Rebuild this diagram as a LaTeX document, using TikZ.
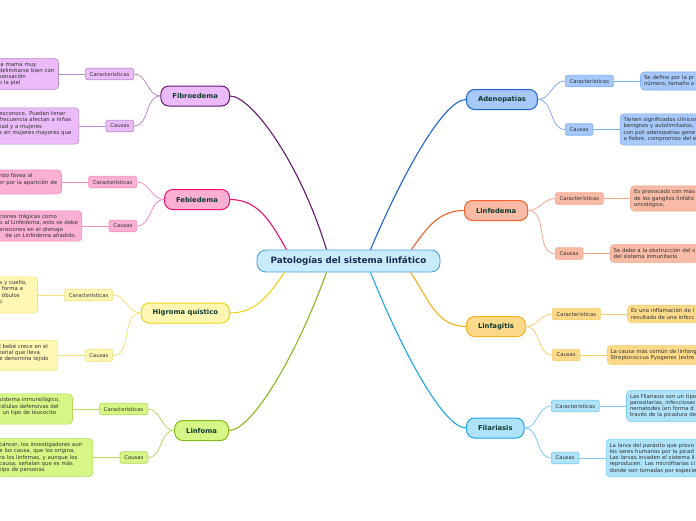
\documentclass[tikz,border=0pt]{standalone}
\usepackage{fontspec}
\setmainfont{DejaVu Sans}
\usepackage{xcolor}
\usetikzlibrary{positioning}

\definecolor{rootfill}{HTML}{C8ECFC}
\definecolor{rootline}{HTML}{4DA3DB}
\definecolor{roottext}{HTML}{1B2B4F}
\definecolor{topictext}{HTML}{0E3B2E}
\definecolor{notetext}{HTML}{333333}
\definecolor{adenofill}{HTML}{A6C8FA}
\definecolor{adenoline}{HTML}{1F63D6}
\definecolor{adenosub}{HTML}{84AEEE}
\definecolor{linfedfill}{HTML}{F9BBA5}
\definecolor{linfedline}{HTML}{F2622F}
\definecolor{linfedsub}{HTML}{F5A68C}
\definecolor{linfagfill}{HTML}{FDDA8A}
\definecolor{linfagline}{HTML}{F5B21F}
\definecolor{linfagsub}{HTML}{F8CF6E}
\definecolor{filarfill}{HTML}{AEE3FA}
\definecolor{filarline}{HTML}{1BA7EC}
\definecolor{filarsub}{HTML}{7CCDF4}
\definecolor{fibrofill}{HTML}{EBBBF9}
\definecolor{fibroline}{HTML}{64186F}
\definecolor{fibrosub}{HTML}{B98ACA}
\definecolor{febifill}{HTML}{FBAFD3}
\definecolor{febiline}{HTML}{EE1274}
\definecolor{febisub}{HTML}{F58DBD}
\definecolor{higrofill}{HTML}{FFF7B2}
\definecolor{higroline}{HTML}{F0D41C}
\definecolor{higrosub}{HTML}{F3E27A}
\definecolor{linfofill}{HTML}{D6F785}
\definecolor{linfoline}{HTML}{86BA1E}
\definecolor{linfosub}{HTML}{B4DA62}

\tikzset{
    root-box/.style = {draw=rootline, fill=rootfill, line width=0.9pt, rounded corners=9pt, minimum width=183pt, minimum height=22pt, text=roottext, font=\fontsize{8.8}{10}\selectfont\bfseries},
    topic-box/.style = {line width=1pt, rounded corners=8pt, minimum height=20pt, inner xsep=11.5pt, text=topictext, font=\fontsize{6.8}{8}\selectfont\bfseries},
    label-box/.style = {line width=0.6pt, rounded corners=2pt, minimum height=11.5pt, inner xsep=4.3pt, inner ysep=1pt, text=notetext, font=\fontsize{5.3}{6}\selectfont},
    note-box/.style = {line width=0.6pt, rounded corners=4pt, inner xsep=3.5pt, inner ysep=3.5pt, align=left, text=notetext, font=\fontsize{5.4}{6.3}\selectfont},
    link/.style = {line width=1.1pt},
    sub-link/.style = {line width=0.8pt},
}

\begin{document}
\begin{tikzpicture}[x=1pt, y=-1pt]
\useasboundingbox[fill=white] (0,0) rectangle (696,520);

\node[root-box] (root) at (348.5,261) {Patologías del sistema linfático};

\node[topic-box, draw=adenoline, fill=adenofill, anchor=west] (adeno) at (466,99.5) {Adenopatías};
\node[topic-box, draw=linfedline, fill=linfedfill, anchor=west] (linfed) at (464,210.5) {Linfedema};
\node[topic-box, draw=linfagline, fill=linfagfill, anchor=west] (linfag) at (466,326.5) {Linfagitis};
\node[topic-box, draw=filarline, fill=filarfill, anchor=west] (filar) at (466,428) {Filariasis};
\node[topic-box, draw=fibroline, fill=fibrofill, anchor=east] (fibro) at (230,96) {Fibroedema};
\node[topic-box, draw=febiline, fill=febifill, anchor=east] (febi) at (230,199.5) {Febiedema};
\node[topic-box, draw=higroline, fill=higrofill, anchor=east] (higro) at (230,313) {Higroma quístico};
\node[topic-box, draw=linfoline, fill=linfofill, anchor=east] (linfo) at (229,430.5) {Linfoma};

\node[label-box, draw=adenosub, fill=adenofill, anchor=west] (adeno-char) at (565,81) {Características};
\node[label-box, draw=adenosub, fill=adenofill, anchor=west] (adeno-cause) at (565,129.5) {Causas};
\node[label-box, draw=linfedsub, fill=linfedfill, anchor=west] (linfed-char) at (555,198.5) {Características};
\node[label-box, draw=linfedsub, fill=linfedfill, anchor=west] (linfed-cause) at (555,253.5) {Causas};
\node[label-box, draw=linfagsub, fill=linfagfill, anchor=west] (linfag-char) at (552,314) {Características};
\node[label-box, draw=linfagsub, fill=linfagfill, anchor=west] (linfag-cause) at (552,355) {Causas};
\node[label-box, draw=filarsub, fill=filarfill, anchor=west] (filar-char) at (551,406) {Características};
\node[label-box, draw=filarsub, fill=filarfill, anchor=west] (filar-cause) at (551,458) {Causas};
\node[label-box, draw=fibrosub, fill=fibrofill, anchor=east] (fibro-char) at (134,74) {Características};
\node[label-box, draw=fibrosub, fill=fibrofill, anchor=east] (fibro-cause) at (134,126) {Causas};
\node[label-box, draw=febisub, fill=febifill, anchor=east] (febi-char) at (137,182) {Características};
\node[label-box, draw=febisub, fill=febifill, anchor=east] (febi-cause) at (137,226) {Causas};
\node[label-box, draw=higrosub, fill=higrofill, anchor=east] (higro-char) at (113,295) {Características};
\node[label-box, draw=higrosub, fill=higrofill, anchor=east] (higro-cause) at (113,355.5) {Causas};
\node[label-box, draw=linfosub, fill=linfofill, anchor=east] (linfo-char) at (148,409) {Características};
\node[label-box, draw=linfosub, fill=linfofill, anchor=east] (linfo-cause) at (148,457.5) {Causas};

\node[note-box, draw=adenosub, fill=adenofill, text width=150pt, right=26.5pt of adeno-char] (adeno-char-note) {Se define por la pr\\número, tamaño o};
\node[note-box, draw=adenosub, fill=adenofill, text width=150pt, right=26.5pt of adeno-cause] (adeno-cause-note) {Tienen significados clínicos\\benignos y autolimitados,\\con poli adenopatías gene\\a fiebre, compromiso del e};
\node[note-box, draw=linfedsub, fill=linfedfill, text width=150pt, right=26.5pt of linfed-char] (linfed-char-note) {Es provocado con más\\de los ganglios linfátic\\oncológico.};
\node[note-box, draw=linfedsub, fill=linfedfill, text width=150pt, right=26.5pt of linfed-cause] (linfed-cause-note) {Se debe a la obstrucción del s\\del sistema inmunitario};
\node[note-box, draw=linfagsub, fill=linfagfill, text width=150pt, right=26.5pt of linfag-char] (linfag-char-note) {Es una inflamación de l\\resultado de una infecc};
\node[note-box, draw=linfagsub, fill=linfagfill, text width=150pt, right=26.5pt of linfag-cause] (linfag-cause-note) {La causa más común de linfang\\Streptococcus Pyogenes (estre};
\node[note-box, draw=filarsub, fill=filarfill, text width=150pt, right=26.5pt of filar-char] (filar-char-note) {Las Filariasis son un tipo\\parasitarias, infecciosas\\nematodes (en forma d\\través de la picadura de};
\node[note-box, draw=filarsub, fill=filarfill, text width=150pt, right=26.5pt of filar-cause] (filar-cause-note) {La larva del parásito que provo\\los seres humanos por la picad\\Las larvas invaden el sistema li\\reproducen. Las microfilarias ci\\donde son tomadas por especie};

\node[note-box, draw=fibrosub, fill=fibrofill, text width=56pt, left=26.5pt of fibro-char] (fibro-char-note) {la mama muy\\delimitarse bien con\\sensación\\o la piel};
\node[note-box, draw=fibrosub, fill=fibrofill, text width=76pt, left=26.5pt of fibro-cause] (fibro-cause-note) {esconoce. Pueden tener\\frecuencia afectan a niñas\\tad y a mujeres\\s en mujeres mayores que\\\mbox{}};
\node[note-box, draw=febisub, fill=febifill, text width=59pt, left=26.5pt of febi-char] (febi-char-note) {ndo fóvea al\\er por la aparición de\\\mbox{}};
\node[note-box, draw=febisub, fill=febifill, text width=79pt, left=26.5pt of febi-cause] (febi-cause-note) {ciones trágicas como\\o al Linfedema, esto se debe\\eraciones en el drenaje\\\hspace*{6pt}de un Linfedema añadido.};
\node[note-box, draw=higrosub, fill=higrofill, text width=35pt, left=26.5pt of higro-char] (higro-char-note) {a y cuello,\\\hspace*{3pt}forma a\\\hspace*{3pt}óbulos\\o\\\mbox{}};
\node[note-box, draw=higrosub, fill=higrofill, text width=55pt, left=26.5pt of higro-cause] (higro-cause-note) {l bebé crece en el\\terial que lleva\\e denomina tejido\\\mbox{}};
\node[note-box, draw=linfosub, fill=linfofill, text width=70pt, left=26.5pt of linfo-char] (linfo-char-note) {sistema inmunológico,\\células defensivas del\\, un tipo de leucocito\\\mbox{}};
\node[note-box, draw=linfosub, fill=linfofill, text width=90pt, left=26.5pt of linfo-cause] (linfo-cause-note) {cáncer, los investigadores aun\\e los causa, que los origina.\\ra los linfomas, y aunque los\\causa, señalan que es más\\tipo de personas};

\draw[link, adenoline] ([xshift=22pt]root.north) to[out=67, in=180, out looseness=1.3, in looseness=0.3] (adeno.west);
\draw[link, linfedline] ([xshift=63pt]root.north) to[out=55, in=180] (linfed.west);
\draw[link, linfagline] ([xshift=62pt]root.south) to[out=-55, in=180] (linfag.west);
\draw[link, filarline] ([xshift=22pt]root.south) to[out=-68, in=180, out looseness=1.3, in looseness=0.3] (filar.west);
\draw[link, fibroline] ([xshift=-22pt]root.north) to[out=107, in=0, out looseness=1.3, in looseness=0.3] (fibro.east);
\draw[link, febiline] ([xshift=-62pt]root.north) to[out=120, in=0] (febi.east);
\draw[link, higroline] ([xshift=-64pt]root.south) to[out=-125, in=0] (higro.east);
\draw[link, linfoline] ([xshift=-22pt]root.south) to[out=-110, in=0, out looseness=1.3, in looseness=0.3] (linfo.east);

\draw[sub-link, adenosub] (adeno.east) to[out=0, in=180] (adeno-char.west);
\draw[sub-link, adenosub] (adeno.east) to[out=0, in=180] (adeno-cause.west);
\draw[sub-link, linfedsub] (linfed.east) to[out=0, in=180] (linfed-char.west);
\draw[sub-link, linfedsub] (linfed.east) to[out=0, in=180] (linfed-cause.west);
\draw[sub-link, linfagsub] (linfag.east) to[out=0, in=180] (linfag-char.west);
\draw[sub-link, linfagsub] (linfag.east) to[out=0, in=180] (linfag-cause.west);
\draw[sub-link, filarsub] (filar.east) to[out=0, in=180] (filar-char.west);
\draw[sub-link, filarsub] (filar.east) to[out=0, in=180] (filar-cause.west);
\draw[sub-link, fibrosub] (fibro.west) to[out=180, in=0] (fibro-char.east);
\draw[sub-link, fibrosub] (fibro.west) to[out=180, in=0] (fibro-cause.east);
\draw[sub-link, febisub] (febi.west) to[out=180, in=0] (febi-char.east);
\draw[sub-link, febisub] (febi.west) to[out=180, in=0] (febi-cause.east);
\draw[sub-link, higrosub] (higro.west) to[out=180, in=0] (higro-char.east);
\draw[sub-link, higrosub] (higro.west) to[out=180, in=0] (higro-cause.east);
\draw[sub-link, linfosub] (linfo.west) to[out=180, in=0] (linfo-char.east);
\draw[sub-link, linfosub] (linfo.west) to[out=180, in=0] (linfo-cause.east);

\draw[sub-link, adenosub] (adeno-char.east) -- (adeno-char-note.west);
\draw[sub-link, adenosub] (adeno-cause.east) -- (adeno-cause-note.west);
\draw[sub-link, linfedsub] (linfed-char.east) -- (linfed-char-note.west);
\draw[sub-link, linfedsub] (linfed-cause.east) -- (linfed-cause-note.west);
\draw[sub-link, linfagsub] (linfag-char.east) -- (linfag-char-note.west);
\draw[sub-link, linfagsub] (linfag-cause.east) -- (linfag-cause-note.west);
\draw[sub-link, filarsub] (filar-char.east) -- (filar-char-note.west);
\draw[sub-link, filarsub] (filar-cause.east) -- (filar-cause-note.west);
\draw[sub-link, fibrosub] (fibro-char.west) -- (fibro-char-note.east);
\draw[sub-link, fibrosub] (fibro-cause.west) -- (fibro-cause-note.east);
\draw[sub-link, febisub] (febi-char.west) -- (febi-char-note.east);
\draw[sub-link, febisub] (febi-cause.west) -- (febi-cause-note.east);
\draw[sub-link, higrosub] (higro-char.west) -- (higro-char-note.east);
\draw[sub-link, higrosub] (higro-cause.west) -- (higro-cause-note.east);
\draw[sub-link, linfosub] (linfo-char.west) -- (linfo-char-note.east);
\draw[sub-link, linfosub] (linfo-cause.west) -- (linfo-cause-note.east);
\end{tikzpicture}
\end{document}
